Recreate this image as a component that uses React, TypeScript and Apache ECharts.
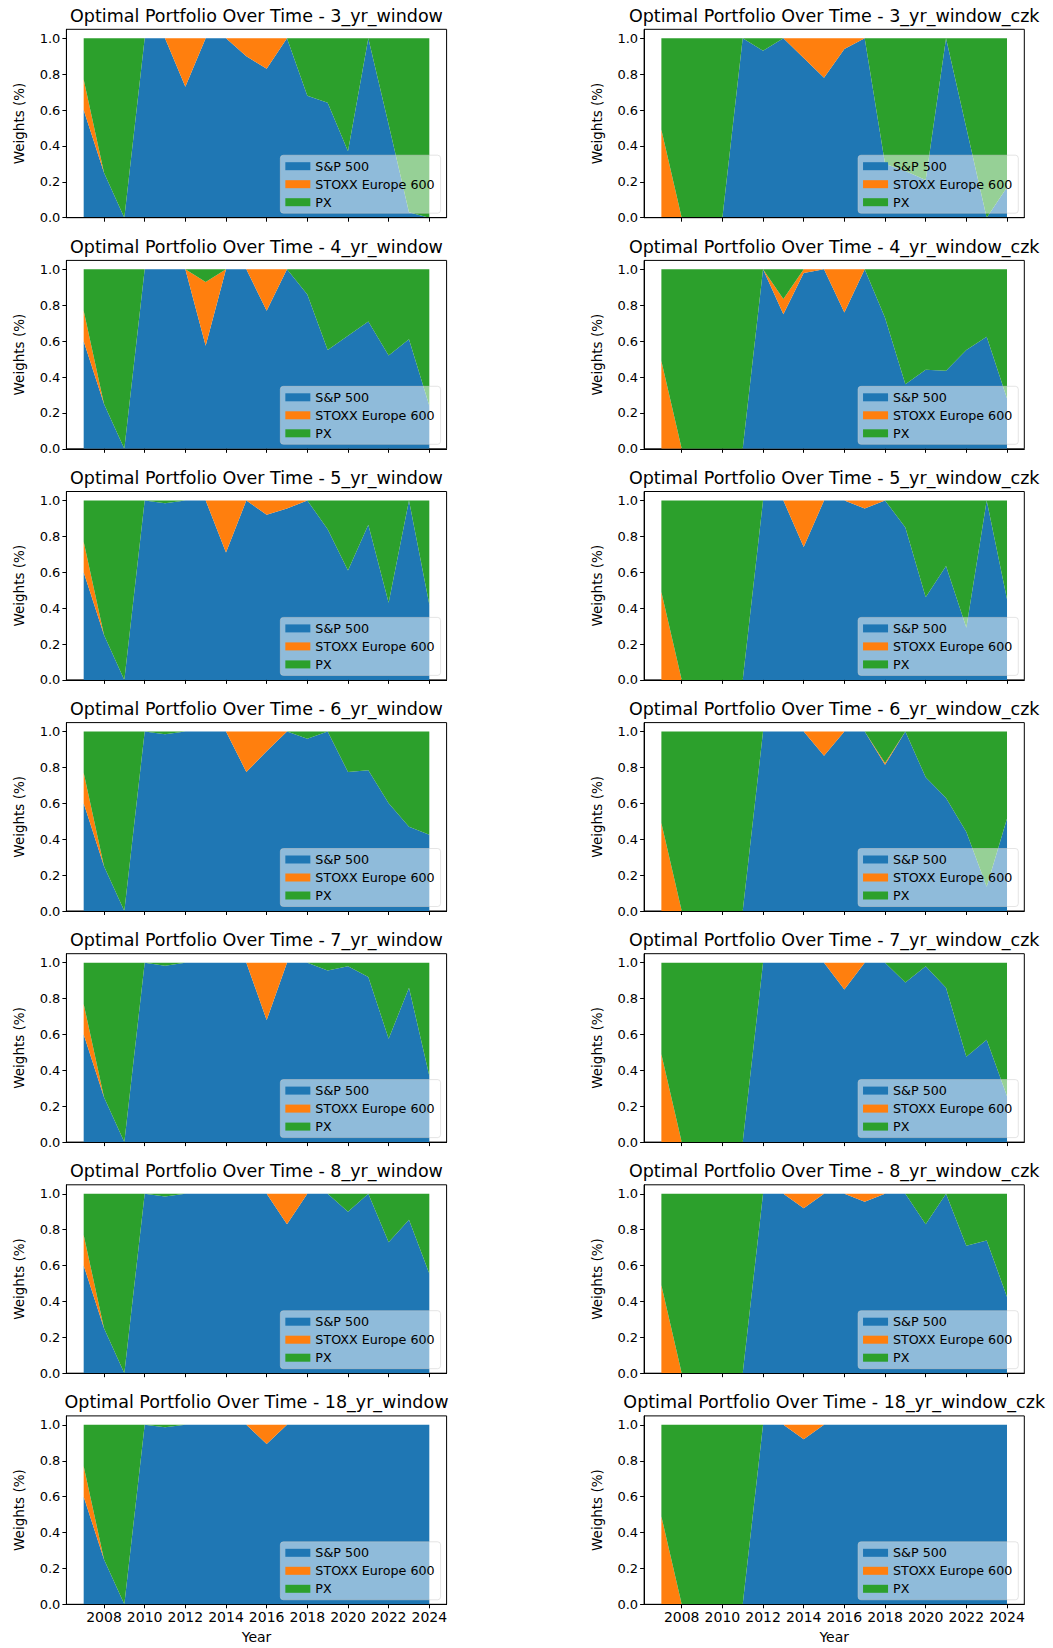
import React, { useEffect, useRef } from "react";
import * as echarts from "echarts";

// ---------- data ----------
const years = [2007, 2008, 2009, 2010, 2011, 2012, 2013, 2014, 2015, 2016, 2017, 2018, 2019, 2020, 2021, 2022, 2023, 2024];
const xTicks = [2008, 2010, 2012, 2014, 2016, 2018, 2020, 2022, 2024];
const yTicks = [0, 0.2, 0.4, 0.6, 0.8, 1.0];
const seriesNames = ["S&P 500", "STOXX Europe 600", "PX"];
const seriesColors = ["#1f77b4", "#ff7f0e", "#2ca02c"];

const sp_3 = [0.60, 0.25, 0.00, 1.00, 1.00, 0.73, 1.00, 1.00, 0.90, 0.83, 1.00, 0.68, 0.64, 0.37, 1.00, 0.52, 0.03, 0.00];
const stoxx_3 = [0.17, 0, 0, 0, 0, 0.27, 0, 0, 0.10, 0.17, 0, 0, 0, 0, 0, 0, 0, 0];
const px_3 = [0.23, 0.75, 1.00, 0, 0, 0, 0, 0, 0, 0, 0, 0.32, 0.36, 0.63, 0, 0.48, 0.97, 1.00];

const sp_3c = [0, 0, 0, 0, 1.00, 0.93, 1.00, 0.89, 0.78, 0.94, 1.00, 0.30, 0.26, 0.21, 1.00, 0.50, 0.00, 0.17];
const stoxx_3c = [0.49, 0, 0, 0, 0, 0, 0, 0.11, 0.22, 0.06, 0, 0, 0, 0, 0, 0, 0, 0];
const px_3c = [0.51, 1, 1, 1, 0, 0.07, 0, 0, 0, 0, 0, 0.70, 0.74, 0.79, 0, 0.50, 1.00, 0.83];

const sp_4 = [0.60, 0.25, 0, 1.00, 1.00, 1.00, 0.575, 1.00, 1.00, 0.77, 1.00, 0.86, 0.55, 0.63, 0.71, 0.52, 0.61, 0.24];
const stoxx_4 = [0.17, 0, 0, 0, 0, 0, 0.355, 0, 0, 0.23, 0, 0, 0, 0, 0, 0, 0, 0];
const px_4 = [0.23, 0.75, 1, 0, 0, 0, 0.07, 0, 0, 0, 0, 0.14, 0.45, 0.37, 0.29, 0.48, 0.39, 0.76];

const sp_4c = [0, 0, 0, 0, 0, 1.00, 0.75, 0.98, 1.00, 0.76, 1.00, 0.73, 0.36, 0.44, 0.435, 0.55, 0.625, 0.28];
const stoxx_4c = [0.49, 0, 0, 0, 0, 0, 0.085, 0.02, 0, 0.24, 0, 0, 0, 0, 0, 0, 0, 0];
const px_4c = [0.51, 1, 1, 1, 1, 0, 0.165, 0, 0, 0, 0, 0.27, 0.64, 0.56, 0.565, 0.45, 0.375, 0.72];

const sp_5 = [0.60, 0.25, 0, 1.00, 0.985, 1.00, 1.00, 0.71, 1.00, 0.92, 0.955, 1.00, 0.84, 0.61, 0.865, 0.43, 1.00, 0.42];
const stoxx_5 = [0.17, 0, 0, 0, 0, 0, 0, 0.29, 0, 0.08, 0.045, 0, 0, 0, 0, 0, 0, 0];
const px_5 = [0.23, 0.75, 1, 0, 0.015, 0, 0, 0, 0, 0, 0, 0, 0.16, 0.39, 0.135, 0.57, 0, 0.58];

const sp_5c = [0, 0, 0, 0, 0, 1.00, 1.00, 0.74, 1.00, 1.00, 0.955, 1.00, 0.85, 0.46, 0.635, 0.29, 1.00, 0.45];
const stoxx_5c = [0.49, 0, 0, 0, 0, 0, 0, 0.26, 0, 0, 0.045, 0, 0, 0, 0, 0, 0, 0];
const px_5c = [0.51, 1, 1, 1, 1, 0, 0, 0, 0, 0, 0, 0, 0.15, 0.54, 0.365, 0.71, 0, 0.55];

const sp_6 = [0.60, 0.25, 0, 1.00, 0.985, 1.00, 1.00, 1.00, 0.775, 0.89, 1.00, 0.96, 1.00, 0.775, 0.785, 0.60, 0.47, 0.425];
const stoxx_6 = [0.17, 0, 0, 0, 0, 0, 0, 0, 0.225, 0.11, 0, 0, 0, 0, 0, 0, 0, 0];
const px_6 = [0.23, 0.75, 1, 0, 0.015, 0, 0, 0, 0, 0, 0, 0.04, 0, 0.225, 0.215, 0.40, 0.53, 0.575];

const sp_6c = [0, 0, 0, 0, 0, 1.00, 1.00, 1.00, 0.865, 1.00, 1.00, 0.815, 1.00, 0.745, 0.63, 0.44, 0.135, 0.515];
const stoxx_6c = [0.49, 0, 0, 0, 0, 0, 0, 0, 0.135, 0, 0, 0.01, 0, 0, 0, 0, 0, 0];
const px_6c = [0.51, 1, 1, 1, 1, 0, 0, 0, 0, 0, 0, 0.175, 0, 0.255, 0.37, 0.56, 0.865, 0.485];

const sp_7 = [0.60, 0.25, 0, 1.00, 0.983, 1.00, 1.00, 1.00, 1.00, 0.68, 1.00, 1.00, 0.957, 0.98, 0.92, 0.576, 0.86, 0.37];
const stoxx_7 = [0.17, 0, 0, 0, 0, 0, 0, 0, 0, 0.32, 0, 0, 0, 0, 0, 0, 0, 0];
const px_7 = [0.23, 0.75, 1, 0, 0.017, 0, 0, 0, 0, 0, 0, 0, 0.043, 0.02, 0.08, 0.424, 0.14, 0.63];

const sp_7c = [0, 0, 0, 0, 0, 1.00, 1.00, 1.00, 1.00, 0.85, 1.00, 1.00, 0.89, 0.98, 0.86, 0.475, 0.57, 0.255];
const stoxx_7c = [0.49, 0, 0, 0, 0, 0, 0, 0, 0, 0.15, 0, 0, 0, 0, 0, 0, 0, 0];
const px_7c = [0.51, 1, 1, 1, 1, 0, 0, 0, 0, 0, 0, 0, 0.11, 0.02, 0.14, 0.525, 0.43, 0.745];

const sp_8 = [0.60, 0.25, 0, 1.00, 0.985, 1.00, 1.00, 1.00, 1.00, 1.00, 0.83, 1.00, 1.00, 0.90, 1.00, 0.73, 0.855, 0.555];
const stoxx_8 = [0.17, 0, 0, 0, 0, 0, 0, 0, 0, 0, 0.17, 0, 0, 0, 0, 0, 0, 0];
const px_8 = [0.23, 0.75, 1, 0, 0.015, 0, 0, 0, 0, 0, 0, 0, 0, 0.10, 0, 0.27, 0.145, 0.445];

const sp_8c = [0, 0, 0, 0, 0, 1.00, 1.00, 0.92, 1.00, 1.00, 0.955, 1.00, 1.00, 0.83, 1.00, 0.71, 0.74, 0.425];
const stoxx_8c = [0.49, 0, 0, 0, 0, 0, 0, 0.08, 0, 0, 0.045, 0, 0, 0, 0, 0, 0, 0];
const px_8c = [0.51, 1, 1, 1, 1, 0, 0, 0, 0, 0, 0, 0, 0, 0.17, 0, 0.29, 0.26, 0.575];

const sp_18 = [0.60, 0.25, 0, 1.00, 0.987, 1.00, 1.00, 1.00, 1.00, 0.893, 1.00, 1.00, 1.00, 1.00, 1.00, 1.00, 1.00, 1.00];
const stoxx_18 = [0.17, 0, 0, 0, 0, 0, 0, 0, 0, 0.107, 0, 0, 0, 0, 0, 0, 0, 0];
const px_18 = [0.23, 0.75, 1, 0, 0.013, 0, 0, 0, 0, 0, 0, 0, 0, 0, 0, 0, 0, 0];

const sp_18c = [0, 0, 0, 0, 0, 1.00, 1.00, 0.92, 1.00, 1.00, 1.00, 1.00, 1.00, 1.00, 1.00, 1.00, 1.00, 1.00];
const stoxx_18c = [0.49, 0, 0, 0, 0, 0, 0, 0.08, 0, 0, 0, 0, 0, 0, 0, 0, 0, 0];
const px_18c = [0.51, 1, 1, 1, 1, 0, 0, 0, 0, 0, 0, 0, 0, 0, 0, 0, 0, 0];

const panelTitles = [
  "Optimal Portfolio Over Time - 3_yr_window",
  "Optimal Portfolio Over Time - 3_yr_window_czk",
  "Optimal Portfolio Over Time - 4_yr_window",
  "Optimal Portfolio Over Time - 4_yr_window_czk",
  "Optimal Portfolio Over Time - 5_yr_window",
  "Optimal Portfolio Over Time - 5_yr_window_czk",
  "Optimal Portfolio Over Time - 6_yr_window",
  "Optimal Portfolio Over Time - 6_yr_window_czk",
  "Optimal Portfolio Over Time - 7_yr_window",
  "Optimal Portfolio Over Time - 7_yr_window_czk",
  "Optimal Portfolio Over Time - 8_yr_window",
  "Optimal Portfolio Over Time - 8_yr_window_czk",
  "Optimal Portfolio Over Time - 18_yr_window",
  "Optimal Portfolio Over Time - 18_yr_window_czk",
];

const panelData = [
  [sp_3, stoxx_3, px_3],
  [sp_3c, stoxx_3c, px_3c],
  [sp_4, stoxx_4, px_4],
  [sp_4c, stoxx_4c, px_4c],
  [sp_5, stoxx_5, px_5],
  [sp_5c, stoxx_5c, px_5c],
  [sp_6, stoxx_6, px_6],
  [sp_6c, stoxx_6c, px_6c],
  [sp_7, stoxx_7, px_7],
  [sp_7c, stoxx_7c, px_7c],
  [sp_8, stoxx_8, px_8],
  [sp_8c, stoxx_8c, px_8c],
  [sp_18, stoxx_18, px_18],
  [sp_18c, stoxx_18c, px_18c],
];

// ---------- layout ----------
const W = 1053;
const H = 1648;
const FONT = "DejaVu Sans";
const ROW_STEP = 231.1;
const GRID_TOP0 = 29.3;
const GRID_H = 188.4;
const GRID_W = 380.2;
const COL_LEFT = [66.4, 644.1];
const X_MIN = 2006.15;
const X_MAX = 2024.85;

function buildOption() {
  const n = panelTitles.length;
  const lastRow = Math.floor((n - 1) / 2);
  const grid: any[] = [];
  const xAxis: any[] = [];
  const yAxis: any[] = [];
  const title: any[] = [];
  const legend: any[] = [];
  const series: any[] = [];

  for (let i = 0; i < n; i++) {
    const r = Math.floor(i / 2);
    const c = i % 2;
    const left = COL_LEFT[c];
    const top = GRID_TOP0 + r * ROW_STEP;
    grid.push({
      left,
      top,
      width: GRID_W,
      height: GRID_H,
      show: true,
      borderColor: "#000",
      borderWidth: 1,
      backgroundColor: "transparent",
    });
    const isBottom = r === lastRow;
    xAxis.push({
      type: "value",
      gridIndex: i,
      min: X_MIN,
      max: X_MAX,
      z: 10,
      axisLine: { show: true, onZero: false, lineStyle: { color: "#000", width: 1 } },
      axisTick: { show: true, length: 4, customValues: xTicks, lineStyle: { color: "#000" } },
      axisLabel: {
        show: isBottom,
        customValues: xTicks,
        margin: 6,
        fontSize: 14,
        color: "#000",
        fontFamily: FONT,
        formatter: (v: number) => String(v),
      },
      splitLine: { show: false },
      name: isBottom ? "Year" : "",
      nameLocation: "middle",
      nameGap: 26,
      nameTextStyle: { fontSize: 14, color: "#000", fontFamily: FONT },
    });
    yAxis.push({
      type: "value",
      gridIndex: i,
      min: 0,
      max: 1.05,
      z: 10,
      axisLine: { show: true, onZero: false, lineStyle: { color: "#000", width: 1 } },
      axisTick: { show: true, length: 4, customValues: yTicks, lineStyle: { color: "#000" } },
      axisLabel: {
        customValues: yTicks,
        margin: 6,
        fontSize: 13,
        color: "#000",
        fontFamily: FONT,
        formatter: (v: number) => v.toFixed(1),
      },
      splitLine: { show: false },
      name: "Weights (%)",
      nameLocation: "middle",
      nameGap: 40,
      nameTextStyle: { fontSize: 13.5, color: "#000", fontFamily: FONT },
    });
    title.push({
      text: panelTitles[i],
      left: left + GRID_W / 2,
      top: r * ROW_STEP + 5.5,
      textAlign: "center",
      padding: 0,
      textStyle: { fontSize: 17.5, fontWeight: "normal", color: "#000", fontFamily: FONT, lineHeight: 20 },
    });
    legend.push({
      orient: "vertical",
      right: W - (left + GRID_W - 6),
      bottom: H - (top + GRID_H - 4.5),
      backgroundColor: "rgba(255,255,255,0.5)",
      borderColor: "rgba(204,204,204,0.5)",
      borderWidth: 1,
      borderRadius: 3,
      padding: [4, 6, 4, 5],
      itemWidth: 25,
      itemHeight: 8,
      itemGap: 4,
      itemTextGap: 9,
      selectedMode: false,
      textStyle: { fontSize: 12.7, color: "#000", fontFamily: FONT, lineHeight: 14 },
      data: seriesNames.map((nm, k) => ({ name: nm, icon: "rect", itemStyle: { color: seriesColors[k] } })),
    });
    const vals = panelData[i];
    for (let k = 0; k < 3; k++) {
      series.push({
        type: "line",
        name: seriesNames[k],
        xAxisIndex: i,
        yAxisIndex: i,
        stack: "panel" + i,
        // weight first, year second: the first value dimension is the stacked one
        data: years.map((y, j) => [vals[k][j], y]),
        encode: { x: 1, y: 0 },
        symbol: "none",
        silent: true,
        itemStyle: { color: seriesColors[k] },
        lineStyle: { width: 0, color: seriesColors[k] },
        areaStyle: { color: seriesColors[k], opacity: 1 },
        z: 2,
      });
    }
  }

  return {
    animation: false,
    backgroundColor: "#fff",
    textStyle: { fontFamily: FONT },
    title,
    legend,
    grid,
    xAxis,
    yAxis,
    series,
  };
}

export default function App() {
  const ref = useRef<HTMLDivElement>(null);
  useEffect(() => {
    if (!ref.current) return;
    const chart = echarts.init(ref.current, undefined, { renderer: "svg" });
    chart.setOption(buildOption() as any);
    return () => chart.dispose();
  }, []);
  return (
    <div
      ref={ref}
      style={{ position: "absolute", left: 0, top: 0, width: W, height: H, background: "#fff" }}
    />
  );
}
